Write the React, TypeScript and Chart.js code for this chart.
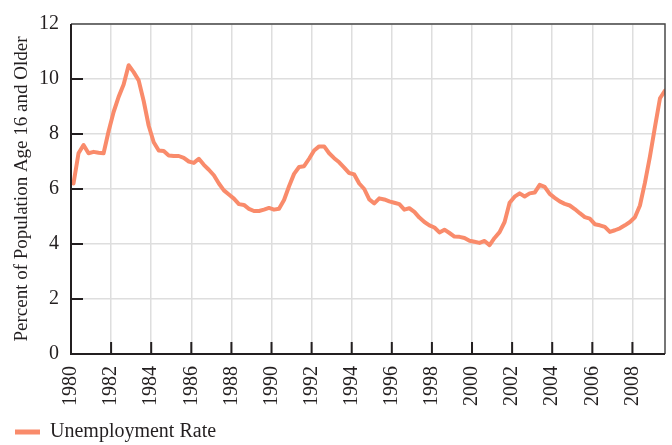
import { useEffect, useRef } from "react";
import { Chart, registerables } from "chart.js";

Chart.register(...registerables);

// ---- data ----
const years = [
  1980, 1981, 1982, 1983, 1984, 1985, 1986, 1987, 1988, 1989,
  1990, 1991, 1992, 1993, 1994, 1995, 1996, 1997, 1998, 1999,
  2000, 2001, 2002, 2003, 2004, 2005, 2006, 2007, 2008, 2009,
];
const quarterNames = ["Q1", "Q2", "Q3", "Q4"];

// quarterly unemployment rate (percent), 1980 Q1 .. 2009 Q3
const unemploymentRate = [
  6.2, 7.3, 7.6, 7.3,
  7.35, 7.32, 7.3, 8.1,
  8.8, 9.35, 9.8, 10.5,
  10.25, 9.95, 9.2, 8.3,
  7.7, 7.4, 7.38, 7.22,
  7.2, 7.2, 7.13, 7.0,
  6.95, 7.1, 6.88, 6.7,
  6.5, 6.2, 5.95, 5.8,
  5.65, 5.45, 5.42, 5.28,
  5.2, 5.2, 5.25, 5.31,
  5.25, 5.28, 5.6, 6.1,
  6.55, 6.8, 6.83, 7.1,
  7.4, 7.55, 7.55, 7.3,
  7.12, 6.97, 6.78, 6.58,
  6.53, 6.2, 6.0, 5.62,
  5.48, 5.66, 5.62, 5.55,
  5.5, 5.45, 5.25, 5.3,
  5.17, 4.96, 4.8, 4.68,
  4.6, 4.42, 4.52, 4.4,
  4.27, 4.26, 4.22, 4.12,
  4.08, 4.04, 4.11, 3.96,
  4.22, 4.43, 4.8, 5.5,
  5.72, 5.84, 5.73, 5.84,
  5.87, 6.15, 6.08, 5.82,
  5.68, 5.55, 5.46, 5.4,
  5.27, 5.12, 4.98, 4.92,
  4.72, 4.68, 4.62, 4.44,
  4.5, 4.57, 4.68, 4.8,
  4.97, 5.4, 6.23, 7.19,
  8.26, 9.3, 9.58,
];

const xTickValues = [
  1980, 1982, 1984, 1986, 1988, 1990, 1992, 1994,
  1996, 1998, 2000, 2002, 2004, 2006, 2008,
];
const yTickValues = [0, 2, 4, 6, 8, 10, 12];

const seriesLabel = "Unemployment Rate";
const yAxisTitle = "Percent of Population Age 16 and Older";

// quarter categories: [year, quarter index]
const quarters: { year: number; q: number }[] = [];
years.forEach((y) => quarterNames.forEach((_, q) => quarters.push({ year: y, q })));

const FONT = "'Liberation Serif', 'Times New Roman', serif";
const TEXT = "#231F20";
const LINE = "#F98B6B";

const framePlugin = {
  id: "frame",
  afterDraw(chart: any) {
    const { ctx, chartArea: a, scales } = chart;
    ctx.save();
    ctx.lineCap = "butt";
    ctx.strokeStyle = "#4a4a4a";
    ctx.lineWidth = 1.5;
    ctx.beginPath();
    ctx.moveTo(a.left, a.top);
    ctx.lineTo(a.right, a.top);
    ctx.lineTo(a.right, a.bottom);
    ctx.stroke();

    ctx.strokeStyle = TEXT;
    ctx.lineWidth = 2;
    ctx.beginPath();
    ctx.moveTo(a.left, a.top);
    ctx.lineTo(a.left, a.bottom);
    ctx.lineTo(a.right, a.bottom);
    for (const v of yTickValues) {
      if (v <= 0 || v >= 12) continue;
      const y = scales.y.getPixelForValue(v);
      ctx.moveTo(a.left, y);
      ctx.lineTo(a.left + 12, y);
    }
    for (const v of xTickValues) {
      if (v <= 1980) continue;
      const x = scales.x.getPixelForValue(v);
      ctx.moveTo(x, a.bottom);
      ctx.lineTo(x, a.bottom - 12);
    }
    ctx.stroke();
    ctx.restore();
  },
};

export default function App() {
  const canvasRef = useRef<HTMLCanvasElement | null>(null);

  useEffect(() => {
    document.body.style.margin = "0";
    const canvas = canvasRef.current;
    if (!canvas) return;

    const points = unemploymentRate.map((v, i) => ({
      x: quarters[i].year + (quarters[i].q + 0.5) / 4,
      y: v,
    }));

    const chart = new Chart(canvas, {
      type: "line",
      data: {
        datasets: [
          {
            label: seriesLabel,
            data: points,
            borderColor: LINE,
            backgroundColor: LINE,
            borderWidth: 4,
            pointRadius: 0,
            tension: 0,
            borderJoinStyle: "round",
            borderCapStyle: "round",
          },
        ],
      },
      options: {
        animation: false,
        responsive: false,
        maintainAspectRatio: false,
        layout: { padding: { left: 5, right: 7, top: 19, bottom: -7 } },
        plugins: {
          tooltip: { enabled: false },
          legend: {
            display: true,
            position: "bottom",
            align: "start",
            labels: {
              color: TEXT,
              font: { family: FONT, size: 20 },
              boxWidth: 25,
              boxHeight: 5,
              padding: 10,
              generateLabels: (c: any) =>
                Chart.defaults.plugins.legend.labels
                  .generateLabels(c)
                  .map((l: any) => ({ ...l, lineWidth: 0, fillStyle: LINE })),
            },
          },
        },
        scales: {
          x: {
            type: "linear",
            min: 1980,
            max: 2009.625,
            afterBuildTicks: (s: any) => {
              s.ticks = xTickValues.map((v) => ({ value: v }));
            },
            afterFit: (s: any) => {
              s.height = 58;
            },
            grid: { color: "#dedede", lineWidth: 1.5, drawTicks: false },
            border: { display: false },
            ticks: {
              color: TEXT,
              font: { family: FONT, size: 20 },
              maxRotation: 90,
              minRotation: 90,
              padding: 12,
              autoSkip: false,
              callback: (v: any) => String(v),
            },
          },
          y: {
            min: 0,
            max: 12,
            afterBuildTicks: (s: any) => {
              s.ticks = yTickValues.map((v) => ({ value: v }));
            },
            afterFit: (s: any) => {
              s.width = 66;
            },
            grid: { color: "#dedede", lineWidth: 1.5, drawTicks: false },
            border: { display: false },
            ticks: {
              color: TEXT,
              font: { family: FONT, size: 20 },
              padding: 12,
              callback: (v: any) => String(v),
            },
            title: {
              display: true,
              text: yAxisTitle,
              color: TEXT,
              font: { family: FONT, size: 19, lineHeight: 1.2 },
              padding: { top: 6, bottom: 0 },
            },
          },
        },
      },
      plugins: [framePlugin],
    });

    return () => chart.destroy();
  }, []);

  return (
    <div style={{ width: 672, height: 445 }}>
      <canvas ref={canvasRef} width={672} height={445} style={{ display: "block" }} />
    </div>
  );
}
